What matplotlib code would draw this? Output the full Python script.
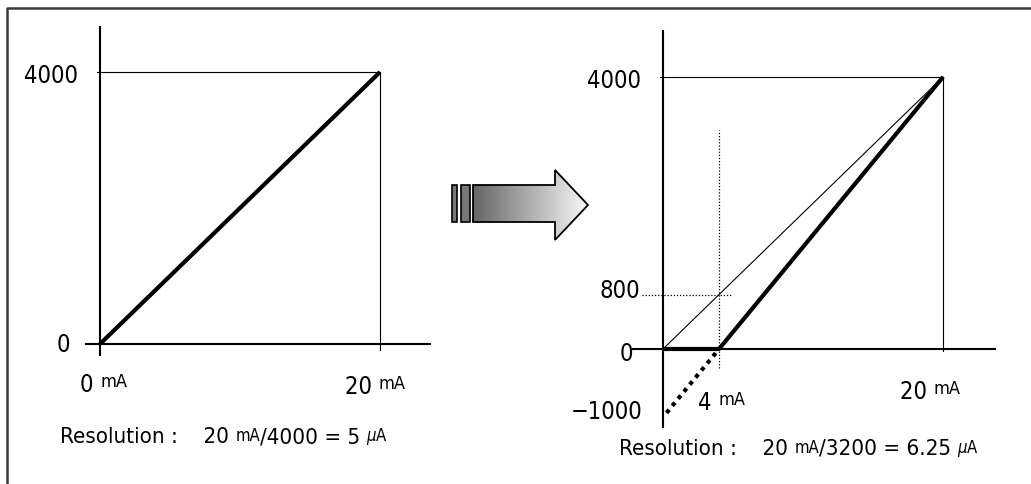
import numpy as np
import matplotlib
matplotlib.use("Agg")
import matplotlib.pyplot as plt
from matplotlib.patches import Polygon, Rectangle

plt.rcParams['font.family'] = ['DejaVu Sans']
plt.rcParams['font.stretch'] = 'condensed'

W, H = 1031, 484
PX_PER_MA = 14.0
PX_PER_UNIT = 0.068

# left chart: plain 0..20 mA -> 0..4000
left_x = [0, 20]
left_y = [0, 4000]

# right chart: offset 4..20 mA -> 0..4000 (with clipping below 4 mA)
right_ref_x = [0, 20]
right_ref_y = [0, 4000]
right_x = [0, 4, 20]
right_y = [0, 0, 4000]
right_under_x = [0.25, 4]
right_under_y = [-940, 0]
marker_x = 4
marker_y = 800


def make_axes(fig, ox, oy):
    # ox, oy: pixel position of the data origin (from top-left)
    ax = fig.add_axes([0, 0, 1, 1])
    ax.set_xlim(-ox / PX_PER_MA, (W - ox) / PX_PER_MA)
    ax.set_ylim((oy - H) / PX_PER_UNIT, oy / PX_PER_UNIT)
    ax.axis("off")
    ax.patch.set_alpha(0)
    return ax


def label(ax, x, y, pieces, big=17, small=13):
    first = ax.text(x, y, pieces[0][0], fontsize=big, va="center", ha="left")
    prev = first
    for txt, kind in pieces[1:]:
        if kind == "s":
            prev = ax.annotate(txt, xy=(1, 1), xycoords=(prev, first),
                               xytext=(0, 0), textcoords="offset points",
                               fontsize=small, va="top", ha="left")
        elif kind == "mu":
            prev = ax.annotate(txt, xy=(1, 1), xycoords=(prev, first),
                               xytext=(0, 0), textcoords="offset points",
                               fontsize=small, va="top", ha="left", style="italic")
        else:
            prev = ax.annotate(txt, xy=(1, 0), xycoords=(prev, first),
                               fontsize=big, va="bottom", ha="left")
    return first


fig = plt.figure(figsize=(W / 100, H / 100), dpi=100)

# overlay in pixel coordinates for frame and arrow
ov = fig.add_axes([0, 0, 1, 1])
ov.set_xlim(0, W)
ov.set_ylim(H, 0)
ov.axis("off")
ov.plot([7, 7, W], [H, 8, 8], color="#3a3a3a", lw=1.8, solid_capstyle="butt")

arrow = [(473, 185), (555, 185), (555, 170), (588, 205), (555, 240), (555, 222), (473, 222)]
grad = np.linspace(0.40, 0.97, 256).reshape(1, -1)
poly = Polygon(arrow, closed=True, facecolor="none", edgecolor="black", lw=1.3, zorder=3)
ov.add_patch(poly)
img = ov.imshow(grad, cmap="gray", vmin=0, vmax=1, extent=(473, 588, 240, 170),
                aspect="auto", zorder=2)
img.set_clip_path(poly)
for x0, x1 in [(452, 457), (461, 470)]:
    ov.add_patch(Rectangle((x0, 185), x1 - x0, 37, facecolor="#777777",
                           edgecolor="black", lw=1.2, zorder=3))
ov.set_xlim(0, W)
ov.set_ylim(H, 0)

# ---- left chart ----
axl = make_axes(fig, 100, 344)
axl.plot([0, 0], [-162, 4662], color="black", lw=1.5)
axl.plot([-1, 23.6], [0, 0], color="black", lw=1.5)
axl.plot([-0.2, 20], [4000, 4000], color="black", lw=0.8)
axl.plot([20, 20], [-90, 4000], color="black", lw=0.8)
axl.plot(left_x, left_y, color="black", lw=3, solid_capstyle="butt")

axl.text(-1.57, 3940, "4000", fontsize=17, ha="right", va="center")
axl.text(-2.1, -15, "0", fontsize=17, ha="right", va="center")
label(axl, -1.43, -603, [("0 ", "b"), ("mA", "s")])
label(axl, 17.5, -630, [("20 ", "b"), ("mA", "s")])
label(axl, -2.86, -1370, [("Resolution :    20 ", "b"), ("mA", "s"),
                          ("/4000 = 5 ", "b"), ("\u03bc", "mu"), ("A", "s")],
      big=16, small=12)

# ---- right chart ----
axr = make_axes(fig, 663, 349)
axr.plot([0, 0], [-1147, 4676], color="black", lw=1.5)
axr.plot([-2.14, 23.7], [0, 0], color="black", lw=1.5)
axr.plot([-0.2, 20], [4000, 4000], color="black", lw=0.8)
axr.plot([20, 20], [-30, 4000], color="black", lw=0.8)
axr.plot(right_ref_x, right_ref_y, color="black", lw=0.8)
axr.plot([-1.5, 4.9], [marker_y, marker_y], color="black", lw=0.9, ls=(0, (1, 1.5)))
axr.plot([marker_x, marker_x], [-280, 3220], color="black", lw=0.9, ls=(0, (1, 1.5)))
axr.plot(right_x, right_y, color="black", lw=3, solid_capstyle="butt")
axr.plot(right_under_x, right_under_y, color="black", lw=3, ls=(0, (1, 1.2)))

axr.text(-1.57, 3940, "4000", fontsize=17, ha="right", va="center")
axr.text(-1.64, 853, "800", fontsize=17, ha="right", va="center")
axr.text(-2.14, -74, "0", fontsize=17, ha="right", va="center")
axr.text(-1.43, -926, "\u22121000", fontsize=17, ha="right", va="center")
label(axr, 2.5, -794, [("4 ", "b"), ("mA", "s")])
label(axr, 16.9, -632, [("20 ", "b"), ("mA", "s")])
label(axr, -3.14, -1470, [("Resolution :    20 ", "b"), ("mA", "s"),
                          ("/3200 = 6.25 ", "b"), ("\u03bc", "mu"), ("A", "s")],
      big=16, small=12)

fig.savefig("out.png", dpi=100)
